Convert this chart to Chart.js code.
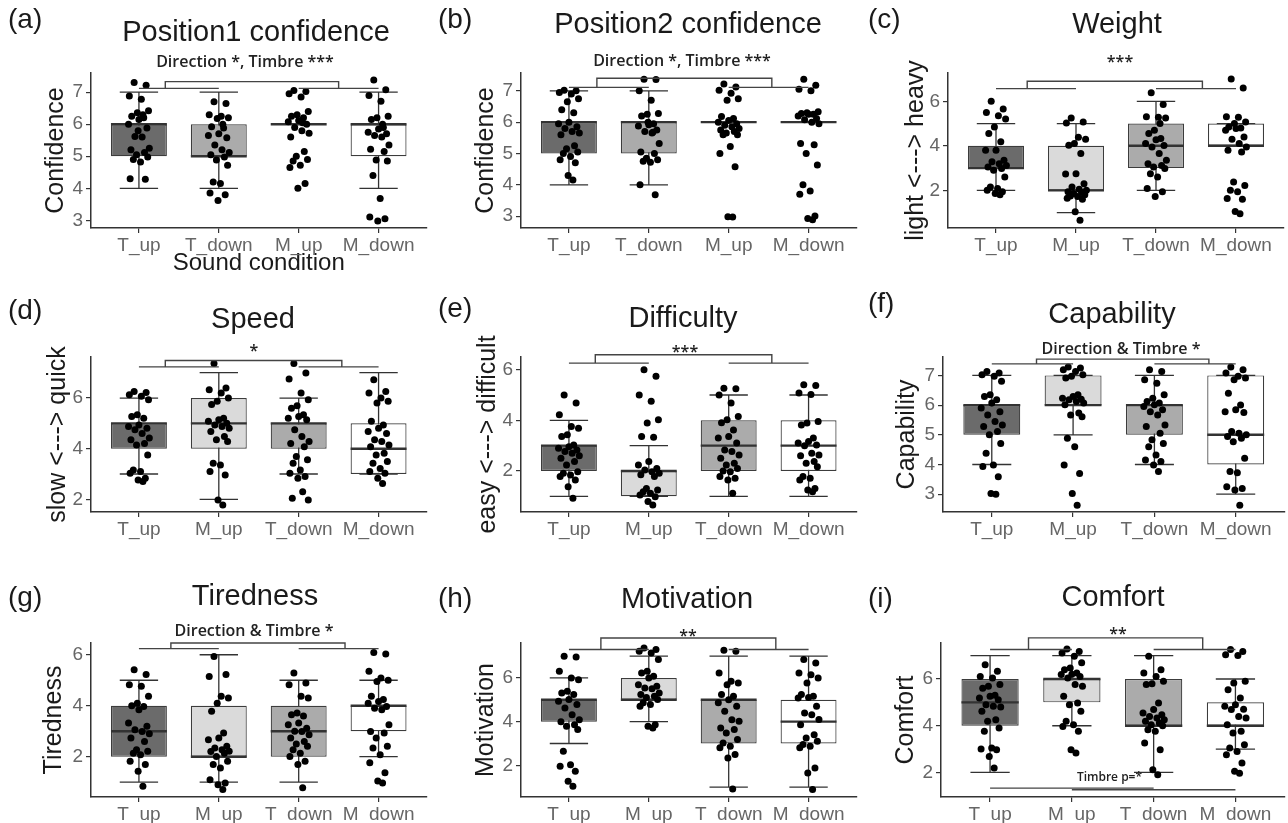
<!DOCTYPE html>
<html>
<head>
<meta charset="utf-8">
<script src="https://cdn.jsdelivr.net/npm/chart.js@4.4.0/dist/chart.umd.min.js"></script>
<style>
  body { margin: 0; background: #fff; width: 1288px; height: 823px; overflow: hidden; position: relative; }
  .panel { position: absolute; }
</style>
</head>
<body>
<div class="panel" style="left:0;top:0;width:430px;height:280px"><canvas id="pa"></canvas></div>
<div class="panel" style="left:430px;top:0;width:430px;height:280px"><canvas id="pb"></canvas></div>
<div class="panel" style="left:860px;top:0;width:428px;height:280px"><canvas id="pc"></canvas></div>
<div class="panel" style="left:0;top:280px;width:430px;height:270px"><canvas id="pd"></canvas></div>
<div class="panel" style="left:430px;top:280px;width:430px;height:270px"><canvas id="pe"></canvas></div>
<div class="panel" style="left:860px;top:280px;width:428px;height:270px"><canvas id="pf"></canvas></div>
<div class="panel" style="left:0;top:550px;width:430px;height:273px"><canvas id="pg"></canvas></div>
<div class="panel" style="left:430px;top:550px;width:430px;height:273px"><canvas id="ph"></canvas></div>
<div class="panel" style="left:860px;top:550px;width:428px;height:273px"><canvas id="pi"></canvas></div>
<script>
// condition order on the x axis
var orderTM = ['T_up', 'T_down', 'M_up', 'M_down'];
var orderUD = ['T_up', 'M_up', 'T_down', 'M_down'];

// box stats per condition: [q1, median, q3, whisker low, whisker high]
var conf1Box = [[5, 6, 6, 4, 7], [5, 5, 6, 4, 7], [6, 6, 6, 6, 6], [5, 6, 6, 4, 7]];
var conf2Box = [[5, 6, 6, 4, 7], [5, 6, 6, 4, 7], [6, 6, 6, 6, 6], [6, 6, 6, 6, 6]];
var weightBox = [[3, 3, 4, 2, 5], [2, 2, 4, 1, 5], [3, 4, 5, 2, 6], [4, 4, 5, 4, 5]];
var speedBox = [[4, 5, 5, 3, 6], [4, 5, 6, 2, 7], [4, 5, 5, 3, 6], [3, 4, 5, 3, 7]];
var difficultyBox = [[2, 3, 3, 1, 4], [1, 2, 2, 1, 3], [2, 3, 4, 1, 5], [2, 3, 4, 1, 5]];
var capabilityBox = [[5, 6, 6, 4, 7], [6, 6, 7, 5, 7], [5, 6, 6, 4, 7], [4, 5, 7, 3, 7]];
var tirednessBox = [[2, 3, 4, 1, 5], [2, 2, 4, 1, 6], [2, 3, 4, 1, 5], [3, 4, 4, 2, 5]];
var motivationBox = [[4, 5, 5, 3, 6], [5, 5, 6, 4, 7], [3, 5, 5, 1, 7], [3, 4, 5, 1, 7]];
var comfortBox = [[4, 5, 6, 2, 7], [5, 6, 6, 4, 7], [4, 4, 6, 2, 7], [4, 4, 5, 3, 6]];

// individual (jittered) answers per condition
var conf1Pts = [
  [7.3, 7.22, 6.88, 6.78, 6.42, 6.36, 6.25, 6.2, 6.15, 6.0, 5.88, 5.62, 5.6, 5.25, 5.2, 5.12, 5.05, 4.98, 4.9, 4.82, 4.3, 4.28, 5.8, 6.3],
  [6.7, 6.65, 6.3, 6.25, 6.2, 6.18, 5.92, 5.88, 5.7, 5.65, 5.58, 5.35, 5.2, 5.12, 5.05, 4.98, 4.88, 4.72, 4.2, 4.15, 3.85, 3.8, 3.62, 6.0],
  [7.05, 7.02, 6.95, 6.85, 6.4, 6.3, 6.25, 6.2, 6.12, 6.08, 6.0, 5.9, 5.8, 5.72, 5.6, 5.15, 5.0, 4.9, 4.85, 4.72, 4.65, 4.15, 4.0, 6.05],
  [7.38, 7.08, 6.9, 6.72, 6.25, 6.2, 6.15, 5.9, 5.85, 5.75, 5.7, 5.65, 5.6, 5.35, 5.22, 5.15, 4.88, 4.85, 4.4, 3.68, 3.1, 3.05, 2.98, 6.0]
];
var conf2Pts = [
  [7.02, 7.0, 6.95, 6.9, 6.75, 6.65, 6.4, 6.3, 6.0, 5.95, 5.85, 5.8, 5.7, 5.65, 5.6, 5.25, 5.15, 5.05, 5.0, 4.9, 4.8, 4.7, 4.3, 4.15],
  [7.37, 7.36, 7.0, 6.7, 6.28, 6.25, 6.2, 5.95, 5.92, 5.88, 5.75, 5.7, 5.65, 5.32, 5.05, 5.0, 4.85, 4.8, 4.75, 4.72, 4.0, 3.68, 6.0, 5.68],
  [7.22, 7.12, 7.02, 6.92, 6.75, 6.7, 6.18, 6.12, 6.05, 6.0, 5.95, 5.9, 5.85, 5.8, 5.75, 5.7, 5.65, 5.6, 5.6, 5.22, 5.0, 4.58, 2.98, 2.97],
  [7.37, 7.18, 7.05, 7.0, 6.33, 6.3, 6.28, 6.25, 6.25, 6.2, 6.12, 6.08, 6.0, 5.95, 5.32, 5.28, 5.0, 4.63, 4.0, 3.8, 3.7, 3.0, 2.92, 2.88]
];
var weightPts = [
  [6.0, 5.65, 5.5, 5.35, 5.2, 4.85, 4.55, 4.18, 3.8, 3.8, 3.35, 3.28, 3.2, 3.12, 3.05, 2.98, 2.9, 2.6, 2.15, 2.08, 2.0, 1.94, 1.86, 1.8],
  [5.25, 5.07, 5.03, 4.38, 4.3, 4.1, 4.03, 3.65, 2.75, 2.73, 2.3, 2.15, 2.05, 2.0, 1.94, 1.9, 1.86, 1.8, 1.75, 1.72, 1.65, 1.6, 1.04, 0.66],
  [6.38, 5.85, 5.3, 5.28, 5.25, 4.7, 4.55, 4.33, 4.27, 4.1, 4.02, 3.95, 3.65, 3.35, 3.2, 3.12, 3.05, 2.98, 2.75, 2.6, 2.08, 1.94, 1.72, 5.0],
  [7.0, 6.6, 5.3, 5.28, 5.07, 5.0, 4.85, 4.8, 4.78, 4.7, 4.4, 4.3, 4.1, 3.95, 3.8, 3.72, 2.37, 2.22, 2.0, 1.94, 1.64, 1.6, 1.05, 0.95]
];
var speedPts = [
  [6.26, 6.22, 6.13, 6.07, 5.93, 5.34, 5.27, 5.2, 4.94, 4.88, 4.81, 4.75, 4.6, 4.42, 4.35, 4.2, 4.15, 3.75, 3.16, 3.1, 3.03, 2.83, 2.76, 2.7],
  [7.36, 6.4, 6.33, 6.2, 6.0, 5.87, 5.74, 5.2, 5.14, 5.08, 5.0, 4.94, 4.88, 4.81, 4.68, 4.48, 4.35, 4.28, 3.42, 3.36, 3.1, 2.96, 1.97, 1.78],
  [7.36, 6.99, 6.75, 6.2, 5.93, 5.7, 5.6, 5.34, 5.27, 5.2, 5.14, 4.75, 4.48, 4.28, 4.2, 4.08, 3.69, 3.56, 3.42, 3.16, 3.03, 2.9, 2.83, 2.3, 2.04, 1.97],
  [6.72, 6.26, 6.2, 6.0, 5.87, 5.8, 5.08, 4.94, 4.81, 4.68, 4.6, 4.35, 4.28, 4.15, 4.08, 3.82, 3.75, 3.49, 3.42, 3.22, 3.1, 3.03, 2.83, 2.63]
];
var difficultyPts = [
  [5.0, 4.68, 4.22, 3.76, 3.69, 3.43, 3.36, 3.03, 2.96, 2.9, 2.83, 2.77, 2.7, 2.6, 2.5, 2.37, 2.24, 1.97, 1.91, 1.84, 1.78, 1.64, 1.38, 0.92],
  [6.0, 5.74, 5.0, 4.75, 4.02, 3.89, 3.36, 3.33, 2.37, 2.24, 2.1, 2.04, 1.97, 1.91, 1.85, 1.78, 1.31, 1.25, 1.18, 1.12, 1.05, 0.98, 0.79, 0.66],
  [5.27, 5.25, 5.0, 4.68, 4.15, 4.02, 3.9, 3.62, 3.36, 3.3, 3.1, 2.83, 2.77, 2.63, 2.5, 2.3, 2.24, 2.1, 2.0, 1.97, 1.78, 1.71, 1.64, 1.12],
  [5.4, 5.37, 5.08, 5.02, 3.95, 3.89, 3.82, 3.3, 3.16, 3.1, 3.03, 3.0, 2.7, 2.63, 2.6, 2.37, 2.3, 2.17, 1.78, 1.71, 1.64, 1.31, 1.25, 1.18]
];
var capabilityPts = [
  [7.13, 7.08, 7.02, 6.97, 6.8, 6.35, 6.29, 6.18, 6.07, 5.9, 5.78, 5.67, 5.45, 5.33, 5.28, 5.11, 5.0, 4.71, 4.38, 3.98, 3.93, 3.59, 3.02, 3.0],
  [7.28, 7.25, 7.19, 7.13, 7.02, 6.97, 6.91, 6.35, 6.29, 6.23, 6.2, 6.18, 6.12, 6.07, 6.01, 5.73, 5.67, 5.61, 4.88, 4.6, 3.98, 3.7, 3.02, 2.63],
  [7.19, 7.13, 6.85, 6.74, 6.35, 6.23, 6.12, 6.07, 6.01, 5.95, 5.84, 5.78, 5.67, 5.33, 5.28, 5.05, 4.83, 4.71, 4.6, 4.32, 4.15, 4.1, 3.98, 3.76],
  [7.28, 7.19, 7.08, 6.97, 6.91, 6.85, 6.4, 6.0, 5.84, 5.78, 5.75, 5.11, 5.05, 5.0, 4.94, 4.88, 4.77, 4.21, 3.76, 3.72, 3.25, 3.19, 3.14, 2.63]
];
var tirednessPts = [
  [5.41, 5.22, 4.82, 4.76, 4.37, 4.1, 4.0, 3.97, 3.84, 3.32, 3.19, 3.06, 2.99, 2.9, 2.73, 2.6, 2.27, 2.21, 2.14, 2.08, 1.82, 1.69, 1.43, 0.84],
  [5.93, 5.22, 5.15, 4.37, 4.3, 4.1, 3.78, 2.93, 2.73, 2.67, 2.41, 2.34, 2.27, 2.21, 2.2, 2.14, 2.01, 1.82, 1.69, 1.56, 1.1, 0.97, 0.9, 0.71],
  [5.28, 4.89, 4.82, 4.37, 4.3, 3.71, 3.65, 3.6, 3.32, 3.25, 3.12, 3.0, 2.99, 2.86, 2.73, 2.6, 2.5, 2.41, 2.27, 2.14, 2.01, 1.82, 1.69, 0.78],
  [6.09, 6.03, 5.35, 5.09, 5.0, 4.95, 4.37, 4.24, 4.17, 4.1, 3.97, 3.9, 3.84, 3.25, 2.99, 2.93, 2.73, 2.41, 2.34, 2.08, 1.76, 1.37, 1.05, 0.97]
];
var motivationPts = [
  [6.99, 6.96, 6.31, 6.0, 5.92, 5.39, 5.31, 5.24, 5.01, 4.93, 4.78, 4.63, 4.32, 4.09, 4.0, 3.86, 3.79, 3.64, 2.64, 2.03, 1.96, 1.73, 1.27, 1.04],
  [7.37, 7.3, 7.22, 7.14, 6.84, 6.31, 6.23, 6.08, 6.0, 5.69, 5.62, 5.54, 5.5, 5.31, 5.24, 5.16, 5.1, 5.01, 4.86, 4.78, 4.7, 3.86, 3.79, 3.71],
  [7.27, 7.22, 6.23, 5.85, 5.77, 5.69, 5.24, 5.16, 5.0, 4.86, 4.7, 4.47, 4.09, 4.02, 3.71, 3.64, 3.48, 3.18, 3.02, 2.87, 2.8, 2.49, 2.34, 0.92],
  [6.84, 6.69, 6.23, 6.15, 6.0, 5.77, 5.24, 5.16, 5.1, 5.08, 4.7, 4.4, 4.32, 4.1, 3.86, 3.4, 3.25, 3.1, 2.95, 2.87, 2.8, 1.88, 1.65, 0.89]
];
var comfortPts = [
  [6.61, 6.33, 6.11, 6.04, 5.76, 5.69, 5.6, 5.3, 5.26, 5.19, 5.11, 4.9, 4.83, 4.8, 4.62, 4.26, 4.19, 3.9, 3.76, 3.05, 3.0, 2.97, 2.68, 2.19],
  [7.28, 7.18, 7.11, 6.97, 6.69, 6.47, 6.4, 6.26, 6.2, 6.19, 6.11, 6.04, 5.76, 5.69, 5.26, 4.97, 4.9, 4.62, 4.19, 4.04, 3.97, 3.76, 2.97, 2.83],
  [6.97, 6.4, 6.26, 6.11, 5.9, 5.8, 5.76, 4.97, 4.69, 4.54, 4.47, 4.4, 4.33, 4.26, 4.19, 4.12, 4.04, 4.0, 3.83, 3.76, 3.26, 2.97, 2.12, 1.9],
  [7.26, 7.18, 7.04, 7.0, 5.9, 5.83, 5.54, 5.19, 4.9, 4.83, 4.7, 4.69, 4.4, 4.33, 4.04, 3.76, 3.69, 3.19, 3.05, 2.9, 2.76, 2.4, 2.05, 1.97]
];

// y tick values
var ticks3to7 = [3, 4, 5, 6, 7];
var ticksEven = [2, 4, 6];

// styling
var FILL = { T_up: '#6b6b6b', T_down: '#ababab', M_up: '#dadada', M_down: '#ffffff' };
var INK = '#333333';
var JITTER = [-0.06, 0.09, -0.12, 0.03, 0.12, -0.02, -0.09, 0.06, 0.0, -0.13, 0.1, -0.05, 0.04,
              0.13, -0.1, 0.07, -0.03, 0.11, -0.07, 0.02, -0.11, 0.08, -0.01, 0.05, -0.08, 0.12];
var CAP = 0.24;
var SANS = '"Liberation Sans", Arial, sans-serif';
var NOTE = '"Open Sans", sans-serif';

var panels = [
  { id: 'pa', letter: '(a)', title: 'Position1 confidence', yTitle: 'Confidence', xTitle: 'Sound condition',
    cats: orderTM, box: conf1Box, pts: conf1Pts, ticks: ticks3to7, yMin: 2.76, yMax: 7.6,
    area: [91, 427, 73, 228], titleAt: [256, 33], letterY: 20, yTitleX: 56,
    note: ['Direction *, Timbre ***', 245, 62], bracket: [7.12, 7.33, 1.33, 3.5] },
  { id: 'pb', letter: '(b)', title: 'Position2 confidence', yTitle: 'Confidence',
    cats: orderTM, box: conf2Box, pts: conf2Pts, ticks: ticks3to7, yMin: 2.62, yMax: 7.57,
    area: [91, 427, 73, 228], titleAt: [258, 25], letterY: 20, yTitleX: 56,
    note: ['Direction *, Timbre ***', 252, 61], bracket: [7.11, 7.4, 1.35, 3.54] },
  { id: 'pc', letter: '(c)', title: 'Weight', yTitle: 'light <---> heavy',
    cats: orderUD, box: weightBox, pts: weightPts, ticks: ticksEven, yMin: 0.31, yMax: 7.27,
    area: [88, 424, 73, 228], titleAt: [257, 25], letterY: 20, yTitleX: 56,
    note: ['***', 260, 62], bracket: [6.57, 6.9, 1.39, 3.58] },
  { id: 'pd', letter: '(d)', title: 'Speed', yTitle: 'slow <---> quick',
    cats: orderUD, box: speedBox, pts: speedPts, ticks: ticksEven, yMin: 1.5, yMax: 7.62,
    area: [91, 427, 77, 232], titleAt: [253, 40], letterY: 31, yTitleX: 58,
    note: ['*', 254, 71], bracket: [7.23, 7.48, 1.33, 3.54] },
  { id: 'pe', letter: '(e)', title: 'Difficulty', yTitle: 'easy <---> difficult',
    cats: orderUD, box: difficultyBox, pts: difficultyPts, ticks: ticksEven, yMin: 0.38, yMax: 6.5,
    area: [91, 427, 77, 232], titleAt: [253, 39], letterY: 29, yTitleX: 58,
    note: ['***', 255, 72], bracket: [6.26, 6.59, 1.33, 3.54] },
  { id: 'pf', letter: '(f)', title: 'Capability', yTitle: 'Capability',
    cats: orderUD, box: capabilityBox, pts: capabilityPts, ticks: ticks3to7, yMin: 2.4, yMax: 7.62,
    area: [83, 426, 77, 232], titleAt: [252, 35], letterY: 24, yTitleX: 47,
    note: ['Direction & Timbre *', 261, 69], bracket: [7.39, 7.55, 1.55, 3.67] },
  { id: 'pg', letter: '(g)', title: 'Tiredness', yTitle: 'Tiredness',
    cats: orderUD, box: tirednessBox, pts: tirednessPts, ticks: ticksEven, yMin: 0.42, yMax: 6.46,
    area: [91, 427, 93, 247], titleAt: [255, 47], letterY: 48, yTitleX: 54,
    note: ['Direction & Timbre *', 254, 81], bracket: [6.24, 6.46, 1.4, 3.58] },
  { id: 'ph', letter: '(h)', title: 'Motivation', yTitle: 'Motivation',
    cats: orderUD, box: motivationBox, pts: motivationPts, ticks: ticksEven, yMin: 0.55, yMax: 7.6,
    area: [91, 427, 93, 247], titleAt: [257, 50], letterY: 49, yTitleX: 56,
    note: ['**', 258, 86], bracket: [7.3, 7.83, 1.4, 3.59] },
  { id: 'pi', letter: '(i)', title: 'Comfort', yTitle: 'Comfort',
    cats: orderUD, box: comfortBox, pts: comfortPts, ticks: ticksEven, yMin: 0.95, yMax: 7.54,
    area: [81, 425, 93, 247], titleAt: [253, 48], letterY: 49, yTitleX: 46,
    note: ['**', 258, 84], bracket: [7.26, 7.76, 1.47, 3.6],
    timbre: { text: 'Timbre p=*', x: 2.46, y: 1.76, lines: [[1, 3, 1.33], [2, 4, 1.26]] } }
];

function segment(ctx, x1, y1, x2, y2) {
  ctx.moveTo(x1, y1);
  ctx.lineTo(x2, y2);
}

function makePanel(p) {
  var canvas = document.getElementById(p.id);
  var W = canvas.parentNode.clientWidth, H = canvas.parentNode.clientHeight;
  var left = p.area[0], right = p.area[1], top = p.area[2], bottom = p.area[3];

  var boxData = p.box.map(function(b, i) { return { x: i + 1, y: [b[0], b[2]] }; });
  var pointData = [];
  p.pts.forEach(function(values, i) {
    values.forEach(function(v, j) {
      pointData.push({ x: i + 1 + JITTER[j % JITTER.length], y: v });
    });
  });

  // whiskers, medians, brackets and the texts around the plot
  var extras = {
    id: 'extras',
    beforeDatasetsDraw: function(chart) {
      var ctx = chart.ctx, x = chart.scales.x, y = chart.scales.y;
      ctx.save();
      ctx.strokeStyle = INK;
      ctx.lineWidth = 1.3;
      ctx.beginPath();
      p.box.forEach(function(b, i) {
        var cx = x.getPixelForValue(i + 1);
        var hw = x.getPixelForValue(i + 1 + CAP) - cx;
        var lo = y.getPixelForValue(b[3]), hi = y.getPixelForValue(b[4]);
        segment(ctx, cx, lo, cx, hi);
        segment(ctx, cx - hw, lo, cx + hw, lo);
        segment(ctx, cx - hw, hi, cx + hw, hi);
      });
      ctx.stroke();
      ctx.restore();
    },
    afterDatasetDraw: function(chart, args) {
      if (args.meta.type !== 'bar') return;
      var ctx = chart.ctx, y = chart.scales.y;
      ctx.save();
      ctx.strokeStyle = INK;
      ctx.lineWidth = 2.4;
      ctx.beginPath();
      args.meta.data.forEach(function(bar, i) {
        var props = bar.getProps(['x', 'width'], true);
        var my = y.getPixelForValue(p.box[i][1]);
        segment(ctx, props.x - props.width / 2, my, props.x + props.width / 2, my);
      });
      ctx.stroke();
      ctx.restore();
    },
    afterDraw: function(chart) {
      var ctx = chart.ctx, x = chart.scales.x, y = chart.scales.y;
      ctx.save();
      ctx.textBaseline = 'middle';
      ctx.fillStyle = '#1a1a1a';
      ctx.font = '28px ' + SANS;
      ctx.textAlign = 'left';
      ctx.fillText(p.letter, 8, p.letterY);
      ctx.textAlign = 'center';
      ctx.font = '29px ' + SANS;
      ctx.fillText(p.title, p.titleAt[0], p.titleAt[1]);
      ctx.font = '600 16px ' + NOTE;
      ctx.fillStyle = '#222';
      ctx.fillText(p.note[0], p.note[1], p.note[2]);

      var br = p.bracket;
      var yl = y.getPixelForValue(br[0]), yh = y.getPixelForValue(br[1]);
      ctx.strokeStyle = '#444';
      ctx.lineWidth = 1.4;
      ctx.beginPath();
      segment(ctx, x.getPixelForValue(1), yl, x.getPixelForValue(2), yl);
      segment(ctx, x.getPixelForValue(3), yl, x.getPixelForValue(4), yl);
      ctx.moveTo(x.getPixelForValue(br[2]), yl);
      ctx.lineTo(x.getPixelForValue(br[2]), yh);
      ctx.lineTo(x.getPixelForValue(br[3]), yh);
      ctx.lineTo(x.getPixelForValue(br[3]), yl);
      ctx.stroke();

      if (p.timbre) {
        ctx.beginPath();
        p.timbre.lines.forEach(function(l) {
          segment(ctx, x.getPixelForValue(l[0]), y.getPixelForValue(l[2]),
                  x.getPixelForValue(l[1]), y.getPixelForValue(l[2]));
        });
        ctx.stroke();
        ctx.font = '600 12px ' + NOTE;
        ctx.fillText(p.timbre.text, x.getPixelForValue(p.timbre.x), y.getPixelForValue(p.timbre.y));
      }
      ctx.restore();
    }
  };

  new Chart(canvas, {
    type: 'bar',
    data: {
      datasets: [
        { type: 'scatter', data: pointData, backgroundColor: '#000', borderWidth: 0,
          pointRadius: 3.5, pointHoverRadius: 3.5, order: 0 },
        { type: 'bar', data: boxData, backgroundColor: p.cats.map(function(c) { return FILL[c]; }),
          borderColor: '#3c3c3c', borderWidth: 1.2, borderSkipped: false,
          categoryPercentage: 1, barPercentage: 0.7, order: 1 }
      ]
    },
    options: {
      responsive: true,
      maintainAspectRatio: false,
      animation: false,
      events: [],
      layout: { padding: { left: 0, top: top, right: W - right, bottom: 0 } },
      plugins: { legend: { display: false }, tooltip: { enabled: false } },
      scales: {
        x: {
          type: 'linear', min: 0.4, max: 4.6, offset: false,
          afterBuildTicks: function(s) { s.ticks = [1, 2, 3, 4].map(function(v) { return { value: v }; }); },
          afterFit: function(s) { s.height = H - bottom; },
          ticks: { autoSkip: false, maxRotation: 0, padding: 1, color: '#666',
                   font: { family: SANS, size: 19 },
                   callback: function(v) { return p.cats[v - 1]; } },
          grid: { offset: false, drawOnChartArea: false, drawTicks: true, tickLength: 5, color: INK, lineWidth: 1.2 },
          border: { display: true, color: INK, width: 1.5 },
          title: { display: !!p.xTitle, text: p.xTitle || '', color: '#1a1a1a',
                   font: { family: SANS, size: 24, lineHeight: 1 }, padding: { top: 0, bottom: 5 } }
        },
        y: {
          min: p.yMin, max: p.yMax,
          afterBuildTicks: function(s) { s.ticks = p.ticks.map(function(v) { return { value: v }; }); },
          afterFit: function(s) { s.width = left; },
          ticks: { padding: 3, color: '#666', font: { family: SANS, size: 19 } },
          grid: { drawOnChartArea: false, drawTicks: true, tickLength: 5, color: INK, lineWidth: 1.2 },
          border: { display: true, color: INK, width: 1.5 },
          title: { display: true, text: p.yTitle, color: '#1a1a1a',
                   font: { family: SANS, size: 25, lineHeight: 1 }, padding: { top: p.yTitleX - 12.5, bottom: 0 } }
        }
      }
    },
    plugins: [extras]
  });
}

panels.forEach(makePanel);
</script>
</body>
</html>
